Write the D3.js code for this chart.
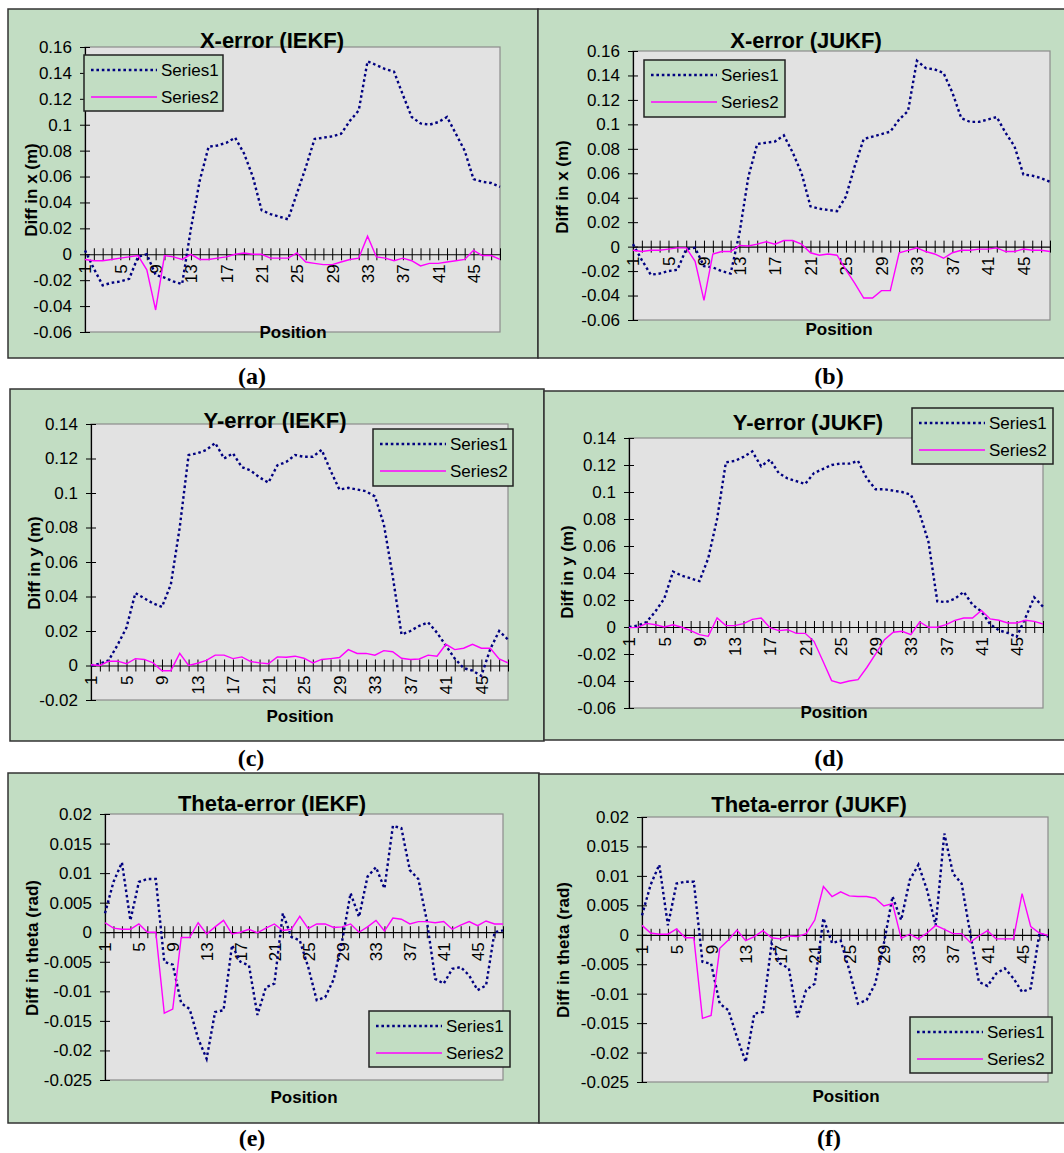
<!DOCTYPE html>
<html>
<head>
<meta charset="utf-8">
<script src="https://cdn.jsdelivr.net/npm/d3@7"></script>
<style>
  body { margin: 0; background: #fff; }
  svg { display: block; }
</style>
</head>
<body>
<div id="chart"></div>
<script>
// categories on the x axis (Position)
var positions = [1,2,3,4,5,6,7,8,9,10,11,12,13,14,15,16,17,18,19,20,21,22,23,24,
                 25,26,27,28,29,30,31,32,33,34,35,36,37,38,39,40,41,42,43,44,45,46,47,48];
var positionLabels = [1,5,9,13,17,21,25,29,33,37,41,45];

// y tick values
var xErrTicks = [-0.06,-0.04,-0.02,0,0.02,0.04,0.06,0.08,0.1,0.12,0.14,0.16];
var yErrTicksIekf = [-0.02,0,0.02,0.04,0.06,0.08,0.1,0.12,0.14];
var yErrTicksJukf = [-0.06,-0.04,-0.02,0,0.02,0.04,0.06,0.08,0.1,0.12,0.14];
var thErrTicks = [-0.025,-0.02,-0.015,-0.01,-0.005,0,0.005,0.01,0.015,0.02];

// (a) X-error IEKF
var xIekfS1 = [0.003,-0.011,-0.024,-0.022,-0.021,-0.019,-0.002,0,-0.016,-0.018,
  -0.021,-0.023,0.02,0.057,0.083,0.084,0.086,0.09,0.078,0.06,
  0.034,0.031,0.029,0.027,0.047,0.067,0.089,0.09,0.091,0.093,
  0.103,0.111,0.149,0.146,0.143,0.141,0.123,0.106,0.101,0.1,
  0.102,0.106,0.093,0.08,0.058,0.056,0.055,0.052];
var xIekfS2 = [-0.004,-0.005,-0.005,-0.004,-0.003,-0.002,-0.001,-0.012,-0.043,-0.001,
  -0.002,-0.004,0,-0.004,-0.004,-0.003,-0.002,0,0.001,0,
  0,-0.003,-0.003,-0.003,0.001,-0.006,-0.007,-0.008,-0.008,-0.006,
  -0.004,-0.003,0.014,-0.002,-0.003,-0.005,-0.003,-0.005,-0.009,-0.007,
  -0.007,-0.006,-0.005,-0.004,0.003,-0.001,-0.001,-0.004];

// (b) X-error JUKF
var xJukfS1 = [0.002,-0.011,-0.023,-0.022,-0.02,-0.019,-0.002,-0.001,-0.016,-0.017,
  -0.02,-0.022,0.011,0.057,0.084,0.085,0.086,0.091,0.077,0.06,
  0.033,0.031,0.03,0.029,0.041,0.066,0.088,0.09,0.092,0.094,
  0.104,0.111,0.152,0.146,0.145,0.142,0.126,0.105,0.102,0.102,
  0.104,0.106,0.093,0.082,0.059,0.058,0.056,0.053];
var xJukfS2 = [-0.003,-0.004,-0.003,-0.003,-0.002,-0.001,-0.001,-0.012,-0.044,-0.006,
  -0.004,-0.004,0.001,0.0005,0.002,0.004,0.002,0.005,0.005,0.002,
  -0.005,-0.007,-0.006,-0.007,-0.019,-0.03,-0.042,-0.042,-0.036,-0.036,
  -0.005,-0.003,-0.001,-0.004,-0.006,-0.0095,-0.005,-0.003,-0.003,-0.002,
  -0.002,-0.001,-0.004,-0.004,-0.002,-0.003,-0.003,-0.004];

// (c) Y-error IEKF
var yIekfS1 = [0,0.001,0.003,0.012,0.022,0.042,0.039,0.036,0.034,0.047,
  0.08,0.122,0.123,0.125,0.129,0.12,0.123,0.115,0.113,0.109,
  0.106,0.116,0.118,0.122,0.121,0.121,0.125,0.113,0.102,0.103,
  0.102,0.101,0.098,0.082,0.052,0.018,0.02,0.023,0.025,0.019,
  0.0115,0.004,-0.0015,-0.003,-0.006,0.0095,0.02,0.015];
var yIekfS2 = [0.0004,0,0.0025,0.0025,0.001,0.004,0.0035,0.0015,-0.003,-0.003,
  0.007,0,0.0013,0.003,0.006,0.006,0.004,0.005,0.0023,0.0015,
  0.001,0.005,0.0048,0.0054,0.0042,0.0015,0.0035,0.004,0.0046,0.0092,
  0.007,0.007,0.006,0.0086,0.008,0.0042,0.0035,0.0038,0.006,0.0054,
  0.0123,0.0092,0.01,0.0123,0.01,0.01,0.0038,0.0015];

// (d) Y-error JUKF
var yJukfS1 = [0,0.001,0.0037,0.0116,0.021,0.041,0.038,0.036,0.034,0.051,
  0.08,0.122,0.123,0.126,0.13,0.119,0.124,0.114,0.11,0.108,
  0.106,0.114,0.117,0.12,0.121,0.121,0.123,0.11,0.102,0.102,
  0.101,0.1,0.098,0.084,0.063,0.019,0.0185,0.021,0.026,0.0165,
  0.0116,0.002,-0.0025,-0.0044,-0.0074,0.0067,0.022,0.015];
var yJukfS2 = [-0.0005,-0.0003,0.0027,0.0017,0,0.0017,-0.0002,-0.0027,-0.0057,-0.0069,
  0.0067,0.001,0.001,0.0025,0.0057,0.0067,-0.0005,-0.0027,-0.002,-0.0047,
  -0.0047,-0.0106,-0.025,-0.0397,-0.0416,-0.04,-0.039,-0.03,-0.02,-0.0094,
  -0.0039,-0.0032,-0.0057,0.0037,-0.0002,-0.0002,0.0017,0.0049,0.0067,0.0067,
  0.0123,0.006,0.005,0.003,0.003,0.005,0.0042,0.0022];

// (e) Theta-error IEKF
var thIekfS1 = [0.0032,0.0085,0.0118,0.002,0.0085,0.009,0.009,-0.005,-0.0055,-0.012,
  -0.013,-0.018,-0.0214,-0.0135,-0.0132,-0.0022,-0.005,-0.0056,-0.014,-0.0093,
  -0.0087,0.0032,-0.0008,-0.0014,-0.0059,-0.0115,-0.011,-0.008,-0.0015,0.0066,
  0.0026,0.0094,0.011,0.0074,0.018,0.0176,0.0105,0.009,0.002,-0.0079,
  -0.0087,-0.0062,-0.0059,-0.0073,-0.0098,-0.009,0,0.0003];
var thIekfS2 = [0.0016,0.0007,0.0005,0.0005,0.0014,0,0,-0.0137,-0.013,-0.0009,
  -0.0009,0.0016,-0.0003,0.0009,0.002,-0.0003,0,0.0005,-0.0001,0.0007,
  0.0014,0.0003,0.0005,0.0027,0.0006,0.0014,0.0014,0.0008,0.0009,0.0014,
  0,0.0009,0.002,0.0002,0.0024,0.0022,0.0014,0.0018,0.0018,0.0016,
  0.0018,0.0005,0.0012,0.0018,0.0011,0.0019,0.0014,0.0014];

// (f) Theta-error JUKF
var thJukfS1 = [0.0033,0.0085,0.0119,0.0016,0.0087,0.009,0.009,-0.0046,-0.0049,-0.0117,
  -0.0128,-0.0174,-0.0216,-0.0134,-0.0131,-0.0015,-0.0049,-0.0057,-0.014,-0.0094,
  -0.0083,0.0028,-0.0014,-0.001,-0.006,-0.0117,-0.0111,-0.0083,-0.0015,0.0065,
  0.0025,0.0093,0.0119,0.0076,0.0016,0.0172,0.0104,0.0087,0.0002,-0.008,
  -0.0087,-0.0066,-0.0057,-0.0074,-0.0097,-0.0091,0.0002,-0.0003];
var thJukfS2 = [0.0016,0.0003,0.0001,0.0001,0.001,-0.0005,-0.0005,-0.0142,-0.0137,-0.0023,
  -0.0009,0.0008,-0.001,-0.0003,0.0007,-0.0005,-0.0007,-0.0002,-0.0003,0.0002,
  0.0025,0.0082,0.0065,0.0073,0.0066,0.0065,0.0065,0.0062,0.0049,0.0053,
  -0.0006,0.0001,-0.0007,0.0003,0.0016,0.0009,0.0002,0.0002,-0.0013,-0.0002,
  0.0007,-0.0007,-0.0007,-0.0007,0.007,0.0014,0.0003,-0.0001];

var seriesNames = ["Series1", "Series2"];

//Svg Initialization
var w = 1064, h = 1153;
var svg = d3.select("#chart").append("svg")
    .attr("width", w).attr("height", h)
    .style("background-color", "white");

var green = "#c2ddc3", plotGray = "#e2e2e2";
var navy = "#000080", magenta = "#ff00ff";
var sans = "'Liberation Sans', Arial, sans-serif";

// layout of each panel (frame, plot area, legend box, label anchors)
var panels = [
  {cap:"(a)", title:"X-error (IEKF)", ytitle:"Diff in x (m)", s1:xIekfS1, s2:xIekfS2, ticks:xErrTicks,
   frame:[8,9,538,358], plot:[85,47,500,332], legend:[84,55,139,56],
   titleAt:[272,48], ytAt:[37,190], posAt:[293,338], capAt:[252,384]},
  {cap:"(b)", title:"X-error (JUKF)", ytitle:"Diff in x (m)", s1:xJukfS1, s2:xJukfS2, ticks:xErrTicks,
   frame:[538,9,1068,358], plot:[633,51,1050,320], legend:[644,60,141,57],
   titleAt:[806,48], ytAt:[568,187], posAt:[839,335], capAt:[829,384]},
  {cap:"(c)", title:"Y-error (IEKF)", ytitle:"Diff in y (m)", s1:yIekfS1, s2:yIekfS2, ticks:yErrTicksIekf,
   frame:[10,389,544,741], plot:[91,424,508,700], legend:[373,429,140,57],
   titleAt:[275,428], ytAt:[40,563], posAt:[300,722], capAt:[251,766]},
  {cap:"(d)", title:"Y-error (JUKF)", ytitle:"Diff in y (m)", s1:yJukfS1, s2:yJukfS2, ticks:yErrTicksJukf,
   frame:[544,391,1068,740], plot:[629,438,1043,708], legend:[912,408,141,56],
   titleAt:[808,430], ytAt:[573,572], posAt:[834,718], capAt:[829,766]},
  {cap:"(e)", title:"Theta-error (IEKF)", ytitle:"Diff in theta (rad)", s1:thIekfS1, s2:thIekfS2, ticks:thErrTicks,
   frame:[8,773,539,1123], plot:[105,814,503,1080], legend:[369,1011,141,56],
   titleAt:[272,811], ytAt:[38,948], posAt:[304,1103], capAt:[252,1146]},
  {cap:"(f)", title:"Theta-error (JUKF)", ytitle:"Diff in theta (rad)", s1:thJukfS1, s2:thJukfS2, ticks:thErrTicks,
   frame:[539,774,1068,1123], plot:[642,817,1048,1082], legend:[910,1017,142,56],
   titleAt:[809,812], ytAt:[569,950], posAt:[846,1102], capAt:[829,1146]}
];

var fmt = function(v) { return String(+v.toFixed(3)); };

panels.forEach(function(p) {
  var g = svg.append("g");
  var f = p.frame, pl = p.plot;

  // green chart area
  g.append("rect")
    .attr("x", f[0]).attr("y", f[1])
    .attr("width", f[2] - f[0]).attr("height", f[3] - f[1])
    .attr("fill", green).attr("stroke", "#333").attr("stroke-width", 1.5);

  var x = d3.scalePoint().domain(positions).range([pl[0], pl[2]]);
  var y = d3.scaleLinear().domain(d3.extent(p.ticks)).range([pl[3], pl[1]]);

  // gray plot area
  g.append("rect")
    .attr("x", pl[0]).attr("y", pl[1])
    .attr("width", pl[2] - pl[0]).attr("height", pl[3] - pl[1])
    .attr("fill", plotGray).attr("stroke", "#8c8c8c").attr("stroke-width", 1.2);

  // y axis, ticks crossing the line
  var ya = g.append("g").attr("transform", "translate(" + pl[0] + ",0)")
    .call(d3.axisLeft(y).tickValues(p.ticks).tickFormat(fmt)
      .tickSizeInner(5).tickSizeOuter(0).tickPadding(8));
  ya.selectAll(".tick line").attr("x1", 5).attr("stroke", "#000");
  ya.select(".domain").attr("stroke", "#000").attr("stroke-width", 1.2);
  ya.selectAll("text").attr("font-family", sans).attr("font-size", 17).attr("fill", "#000");

  // category axis at zero
  var xa = g.append("g").attr("transform", "translate(0," + y(0) + ")")
    .call(d3.axisBottom(x).tickValues(positions)
      .tickFormat(function(d) { return positionLabels.indexOf(d) >= 0 ? d : ""; })
      .tickSizeInner(6).tickSizeOuter(0));
  xa.selectAll(".tick line").attr("y1", -6).attr("stroke", "#000");
  xa.select(".domain").attr("stroke", "#000").attr("stroke-width", 1.2);
  xa.selectAll("text")
    .attr("font-family", sans).attr("font-size", 17).attr("fill", "#000")
    .attr("transform", "rotate(-90)")
    .attr("x", -10).attr("y", 0).attr("dy", "0.35em")
    .style("text-anchor", "end");

  // the two series
  var line = d3.line()
    .x(function(d, i) { return x(positions[i]); })
    .y(function(d) { return y(d); });
  g.append("path").datum(p.s1).attr("d", line)
    .attr("fill", "none").attr("stroke", navy).attr("stroke-width", 2.4)
    .attr("stroke-dasharray", "2.6,2.8");
  g.append("path").datum(p.s2).attr("d", line)
    .attr("fill", "none").attr("stroke", magenta).attr("stroke-width", 1.4);

  // titles
  g.append("text").attr("x", p.titleAt[0]).attr("y", p.titleAt[1])
    .attr("text-anchor", "middle").attr("font-family", sans)
    .attr("font-size", 22).attr("font-weight", "bold").text(p.title);
  g.append("text")
    .attr("transform", "translate(" + p.ytAt[0] + "," + p.ytAt[1] + ") rotate(-90)")
    .attr("text-anchor", "middle").attr("font-family", sans)
    .attr("font-size", 17).attr("font-weight", "bold").text(p.ytitle);
  g.append("text").attr("x", p.posAt[0]).attr("y", p.posAt[1])
    .attr("text-anchor", "middle").attr("font-family", sans)
    .attr("font-size", 17).attr("font-weight", "bold").text("Position");

  // legend
  var lg = p.legend;
  var leg = g.append("g").attr("transform", "translate(" + lg[0] + "," + lg[1] + ")");
  leg.append("rect").attr("width", lg[2]).attr("height", lg[3])
    .attr("fill", green).attr("stroke", "#222").attr("stroke-width", 1.5);
  seriesNames.forEach(function(name, i) {
    var ry = i === 0 ? 15 : 42;
    leg.append("line").attr("x1", 7).attr("x2", 73).attr("y1", ry).attr("y2", ry)
      .attr("stroke", i === 0 ? navy : magenta)
      .attr("stroke-width", i === 0 ? 2.4 : 1.4)
      .attr("stroke-dasharray", i === 0 ? "2.6,2.8" : null);
    leg.append("text").attr("x", 77).attr("y", ry).attr("dy", "0.35em")
      .attr("font-family", sans).attr("font-size", 17).text(name);
  });

  // caption under the panel
  svg.append("text").attr("x", p.capAt[0]).attr("y", p.capAt[1])
    .attr("text-anchor", "middle")
    .attr("font-family", "'Liberation Serif', 'Times New Roman', serif")
    .attr("font-size", 24).attr("font-weight", "bold").text(p.cap);
});
</script>
</body>
</html>
